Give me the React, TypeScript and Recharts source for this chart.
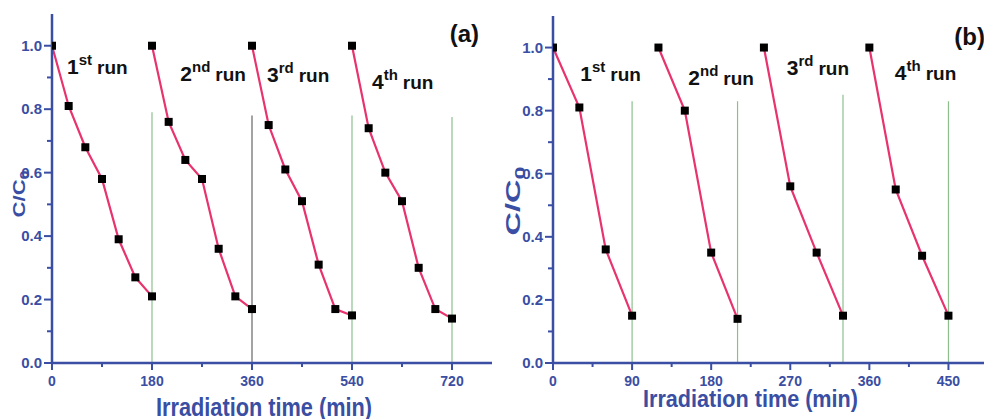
import React from 'react';
import { LineChart, Line, XAxis, YAxis, ReferenceLine, ReferenceDot } from 'recharts';

const BLUE = '#3a4ea3';
const PINK = '#e8336e';
const GREEN = '#8dbf8d';
const GRAY = '#666666';
const FONT = '"Liberation Sans", Arial, sans-serif';

// Panel (a): four runs of 180 min
const timesA1 = [0, 30, 60, 90, 120, 150, 180];
const timesA2 = [180, 210, 240, 270, 300, 330, 360];
const timesA3 = [360, 390, 420, 450, 480, 510, 540];
const timesA4 = [540, 570, 600, 630, 660, 690, 720];
const runA1 = [1.0, 0.81, 0.68, 0.58, 0.39, 0.27, 0.21];
const runA2 = [1.0, 0.76, 0.64, 0.58, 0.36, 0.21, 0.17];
const runA3 = [1.0, 0.75, 0.61, 0.51, 0.31, 0.17, 0.15];
const runA4 = [1.0, 0.74, 0.6, 0.51, 0.3, 0.17, 0.14];

// Panel (b): four runs of 90 min
const timesB1 = [0, 30, 60, 90];
const timesB2 = [120, 150, 180, 210];
const timesB3 = [240, 270, 300, 330];
const timesB4 = [360, 390, 420, 450];
const runB1 = [1.0, 0.81, 0.36, 0.15];
const runB2 = [1.0, 0.8, 0.35, 0.14];
const runB3 = [1.0, 0.56, 0.35, 0.15];
const runB4 = [1.0, 0.55, 0.34, 0.15];

// end-of-run separators
const sepTimesA = [180, 360, 540, 720];
const sepTopsA = [0.79, 0.78, 0.78, 0.775];
const sepColorsA = [GREEN, GRAY, GREEN, GREEN];
const sepTimesB = [90, 210, 330, 450];
const sepTopsB = [0.83, 0.83, 0.85, 0.83];

// ticks
const yTicks = [0, 0.1, 0.2, 0.3, 0.4, 0.5, 0.6, 0.7, 0.8, 0.9, 1.0];
const yMajor = [0, 0.2, 0.4, 0.6, 0.8, 1.0];
const xTicksA = [0, 90, 180, 270, 360, 450, 540, 630, 720];
const xMajorA = [0, 180, 360, 540, 720];
const xTicksB = [0, 45, 90, 135, 180, 225, 270, 315, 360, 405, 450];
const xMajorB = [0, 90, 180, 270, 360, 450];

// run labels
const runOrd = ['1', '2', '3', '4'];
const runSuf = ['st', 'nd', 'rd', 'th'];
const labelTA = [27, 231, 387, 576];
const labelVA = [0.91, 0.89, 0.885, 0.863];
const labelTB = [31, 154, 266, 389];
const labelVB = [0.895, 0.882, 0.913, 0.897];

const toPoints = (ts: number[], vs: number[]) => ts.map((t, i) => ({ t, v: vs[i] }));

const XTick = (p: any) => {
  const major = p.majors.includes(p.payload.value);
  return (
    <g>
      <line x1={p.x} y1={p.y} x2={p.x} y2={p.y + (major ? 7 : 4)} stroke={BLUE} strokeWidth={2} />
      {major && (
        <text x={p.x} y={p.y + 22.5} textAnchor="middle" fill={BLUE} fontSize={14}
          fontWeight="bold" fontFamily={FONT}>{p.payload.value}</text>
      )}
    </g>
  );
};

const YTick = (p: any) => {
  const major = yMajor.includes(p.payload.value);
  return (
    <g>
      <line x1={p.x - (major ? 8 : 5)} y1={p.y} x2={p.x} y2={p.y} stroke={BLUE} strokeWidth={2} />
      {major && (
        <text x={p.x - 10} y={p.y + 5} textAnchor="end" fill={BLUE} fontSize={15}
          fontWeight="bold" fontFamily={FONT}>{p.payload.value.toFixed(1)}</text>
      )}
    </g>
  );
};

const RunLabel = ({ cx, cy, ord, suf }: any) => (
  <text x={cx} y={cy} fontFamily={FONT} fontWeight="bold" fill="#111">
    <tspan fontSize={21}>{ord}</tspan>
    <tspan fontSize={15} dy={-9}>{suf}</tspan>
    <tspan fontSize={19} dy={9} dx={5}>run</tspan>
  </text>
);

interface PanelProps {
  runs: { t: number; v: number }[][];
  domainX: [number, number];
  xTicks: number[];
  xMajor: number[];
  sepTimes: number[];
  sepTops: number[];
  sepColors: string[];
  labelT: number[];
  labelV: number[];
  tag: string;
  tagT: number;
  tagV: number;
  width: number;
  marginTop: number;
  marginRight: number;
  xTitle: { dx: number; dy: number; size: number; len: number };
  yTitle: { x: number; y: number; size: number; stretch: number };
}

const Panel: React.FC<PanelProps> = (c) => (
  <LineChart width={c.width} height={419} margin={{ top: c.marginTop, right: c.marginRight, bottom: 0, left: 0 }}>
    <XAxis
      dataKey="t"
      type="number"
      domain={c.domainX}
      allowDataOverflow
      ticks={c.xTicks}
      interval={0}
      tickSize={0}
      tickMargin={0}
      height={56}
      axisLine={{ stroke: BLUE, strokeWidth: 2.5 }}
      tick={(p: any) => <XTick {...p} majors={c.xMajor} />}
      label={({ viewBox }: any) => (
        <text x={viewBox.x + c.xTitle.dx} y={viewBox.y + c.xTitle.dy} fill={BLUE} fontSize={c.xTitle.size}
          fontWeight="bold" fontFamily={FONT} textLength={c.xTitle.len} lengthAdjust="spacingAndGlyphs">
          Irradiation time (min)
        </text>
      )}
    />
    <XAxis xAxisId="top" orientation="top" type="number" domain={c.domainX} allowDataOverflow height={0}
      tick={false} tickLine={false} axisLine={{ stroke: BLUE, strokeWidth: 2 }} />
    <YAxis
      type="number"
      domain={[0, 1.1]}
      allowDataOverflow
      ticks={yTicks}
      interval={0}
      tickSize={0}
      tickMargin={0}
      width={52}
      axisLine={{ stroke: BLUE, strokeWidth: 2.5 }}
      tick={(p: any) => <YTick {...p} />}
      label={() => (
        <text x={0} y={0}
          transform={`translate(${c.yTitle.x}, ${c.yTitle.y}) rotate(-90) scale(${c.yTitle.stretch}, 1)`}
          textAnchor="middle" fill={BLUE} fontSize={c.yTitle.size} fontWeight="bold" fontFamily={FONT}>
          C/C<tspan fontSize={c.yTitle.size * 0.72} dy={c.yTitle.size * 0.22}>0</tspan>
        </text>
      )}
    />
    <YAxis yAxisId="right" orientation="right" type="number" domain={[0, 1.1]} allowDataOverflow width={0}
      tick={false} tickLine={false} axisLine={{ stroke: BLUE, strokeWidth: 2 }} />
    {c.sepTimes.map((t, i) => (
      <ReferenceLine key={`sep${i}`} segment={[{ x: t, y: 0 }, { x: t, y: c.sepTops[i] }]}
        stroke={c.sepColors[i]} strokeWidth={1.2} ifOverflow="visible" />
    ))}
    {c.runs.map((run, i) => (
      <Line
        key={`run${i}`}
        data={run}
        dataKey="v"
        type="linear"
        stroke={PINK}
        strokeWidth={2.2}
        isAnimationActive={false}
        dot={(p: any) => (
          <rect key={`d${i}-${p.index}`} x={p.cx - 4} y={p.cy - 4} width={8} height={8} fill="#000" />
        )}
        activeDot={false}
      />
    ))}
    {c.labelT.map((t, i) => (
      <ReferenceDot key={`lab${i}`} x={t} y={c.labelV[i]} r={0} ifOverflow="visible"
        shape={(p: any) => <RunLabel cx={p.cx} cy={p.cy} ord={runOrd[i]} suf={runSuf[i]} />} />
    ))}
    <ReferenceDot x={c.tagT} y={c.tagV} r={0} ifOverflow="visible"
      shape={(p: any) => (
        <text x={p.cx} y={p.cy} fontFamily={FONT} fontWeight="bold" fontSize={24} fill="#111">{c.tag}</text>
      )} />
  </LineChart>
);

export default function App() {
  const runsA = [toPoints(timesA1, runA1), toPoints(timesA2, runA2), toPoints(timesA3, runA3), toPoints(timesA4, runA4)];
  const runsB = [toPoints(timesB1, runB1), toPoints(timesB2, runB2), toPoints(timesB3, runB3), toPoints(timesB4, runB4)];
  return (
    <div style={{ position: 'absolute', left: 0, top: 0, width: 984, height: 419, overflow: 'hidden', background: '#fff' }}>
      <div style={{ position: 'absolute', left: 0, top: 0 }}>
        <Panel
          runs={runsA}
          domainX={[0, 792]}
          xTicks={xTicksA}
          xMajor={xMajorA}
          sepTimes={sepTimesA}
          sepTops={sepTopsA}
          sepColors={sepColorsA}
          labelT={labelTA}
          labelV={labelVA}
          tag="(a)"
          tagT={716}
          tagV={1.011}
          width={493}
          marginTop={14}
          marginRight={1}
          xTitle={{ dx: 104, dy: 53, size: 25, len: 216 }}
          yTitle={{ x: 25, y: 194, size: 17, stretch: 1.3 }}
        />
      </div>
      <div style={{ position: 'absolute', left: 501, top: 0 }}>
        <Panel
          runs={runsB}
          domainX={[0, 495]}
          xTicks={xTicksB}
          xMajor={xMajorB}
          sepTimes={sepTimesB}
          sepTops={sepTopsB}
          sepColors={[GREEN, GREEN, GREEN, GREEN]}
          labelT={labelTB}
          labelV={labelVB}
          tag="(b)"
          tagT={456.6}
          tagV={1.008}
          width={490}
          marginTop={16}
          marginRight={3}
          xTitle={{ dx: 90, dy: 43.5, size: 23, len: 215 }}
          yTitle={{ x: 19, y: 201, size: 21, stretch: 1.55 }}
        />
      </div>
    </div>
  );
}
